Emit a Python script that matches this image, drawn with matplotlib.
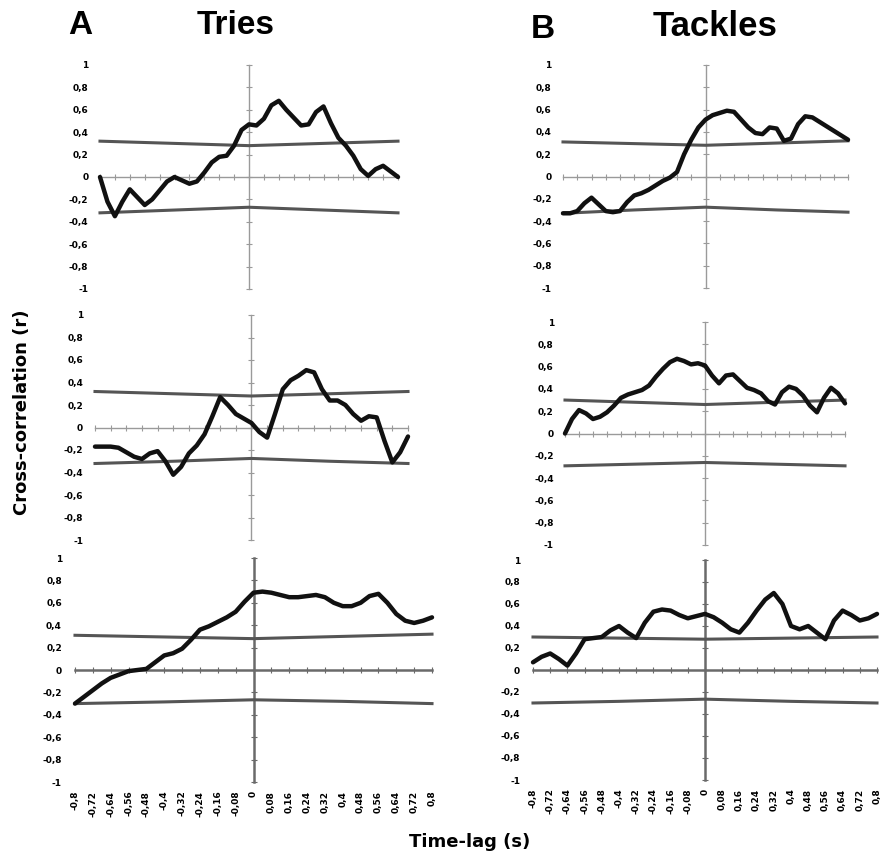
import matplotlib.pyplot as plt
import numpy as np

# time lags (s) of the cross-correlation curves
lags = np.linspace(-0.8, 0.8, 41)
band_lags = [-0.8, -0.4, 0.0, 0.4, 0.8]

# A - Tries
tries_1 = [0.0, -0.22, -0.35, -0.22, -0.11, -0.18, -0.25, -0.20, -0.12, -0.04,
           0.0, -0.03, -0.06, -0.04, 0.04, 0.13, 0.18, 0.19, 0.28, 0.42,
           0.47, 0.46, 0.52, 0.64, 0.68, 0.60, 0.53, 0.46, 0.47, 0.58,
           0.63, 0.48, 0.35, 0.28, 0.19, 0.07, 0.01, 0.07, 0.10, 0.05, 0.0]
tries_2 = [-0.17, -0.17, -0.17, -0.18, -0.22, -0.26, -0.28, -0.23, -0.21, -0.30,
           -0.42, -0.35, -0.23, -0.16, -0.06, 0.10, 0.27, 0.20, 0.12, 0.08,
           0.04, -0.04, -0.09, 0.12, 0.34, 0.42, 0.46, 0.51, 0.49, 0.34,
           0.24, 0.24, 0.20, 0.12, 0.06, 0.10, 0.09, -0.12, -0.31, -0.22, -0.08]
tries_3 = [-0.30, -0.24, -0.18, -0.12, -0.07, -0.04, -0.01, 0.0, 0.01, 0.07,
           0.13, 0.15, 0.19, 0.27, 0.36, 0.39, 0.43, 0.47, 0.52, 0.61,
           0.69, 0.70, 0.69, 0.67, 0.65, 0.65, 0.66, 0.67, 0.65, 0.60,
           0.57, 0.57, 0.60, 0.66, 0.68, 0.60, 0.50, 0.44, 0.42, 0.44, 0.47]

# B - Tackles
tackles_1 = [-0.33, -0.33, -0.31, -0.24, -0.19, -0.25, -0.31, -0.32, -0.31, -0.23,
             -0.17, -0.15, -0.12, -0.08, -0.04, -0.01, 0.04, 0.20, 0.33, 0.44,
             0.51, 0.55, 0.57, 0.59, 0.58, 0.51, 0.44, 0.39, 0.38, 0.44,
             0.43, 0.32, 0.34, 0.47, 0.54, 0.53, 0.49, 0.45, 0.41, 0.37, 0.33]
tackles_2 = [0.0, 0.13, 0.21, 0.18, 0.13, 0.15, 0.19, 0.25, 0.32, 0.35,
             0.37, 0.39, 0.43, 0.51, 0.58, 0.64, 0.67, 0.65, 0.62, 0.63,
             0.61, 0.52, 0.45, 0.52, 0.53, 0.47, 0.41, 0.39, 0.36, 0.29,
             0.26, 0.37, 0.42, 0.40, 0.34, 0.25, 0.19, 0.32, 0.41, 0.36, 0.27]
tackles_3 = [0.07, 0.12, 0.15, 0.10, 0.04, 0.15, 0.28, 0.29, 0.30, 0.36,
             0.40, 0.34, 0.29, 0.43, 0.53, 0.55, 0.54, 0.50, 0.47, 0.49,
             0.51, 0.48, 0.43, 0.37, 0.34, 0.43, 0.54, 0.64, 0.70, 0.60,
             0.40, 0.37, 0.40, 0.34, 0.28, 0.45, 0.54, 0.50, 0.45, 0.47, 0.51]

# significance bands (upper, lower) at band_lags
upper_bands = [[0.32, 0.30, 0.28, 0.30, 0.32],
               [0.31, 0.295, 0.28, 0.30, 0.32],
               [0.32, 0.30, 0.28, 0.30, 0.32],
               [0.30, 0.28, 0.26, 0.28, 0.30],
               [0.31, 0.295, 0.28, 0.30, 0.32],
               [0.30, 0.29, 0.28, 0.29, 0.30]]
lower_bands = [[-0.32, -0.295, -0.27, -0.295, -0.32],
               [-0.33, -0.30, -0.275, -0.30, -0.32],
               [-0.32, -0.30, -0.275, -0.30, -0.32],
               [-0.29, -0.275, -0.26, -0.275, -0.29],
               [-0.30, -0.285, -0.266, -0.28, -0.30],
               [-0.30, -0.285, -0.265, -0.285, -0.30]]

curves = [tries_1, tackles_1, tries_2, tackles_2, tries_3, tackles_3]

y_ticks = [1, 0.8, 0.6, 0.4, 0.2, 0, -0.2, -0.4, -0.6, -0.8, -1]
y_labels = ['1', '0,8', '0,6', '0,4', '0,2', '0', '-0,2', '-0,4', '-0,6', '-0,8', '-1']
x_ticks = np.round(np.linspace(-0.8, 0.8, 21), 2)
x_labels = [('%g' % v).replace('.', ',') for v in x_ticks]

W, H = 882, 858
fig = plt.figure(figsize=(W / 100, H / 100), dpi=100)

# pixel extents of the data box (x=-0.8, x=0.8, y=1, y=-1) for each panel
boxes = [(100, 398, 65, 289), (563, 848, 65, 288),
         (95, 408, 315, 540), (565, 845, 322, 545),
         (75, 432, 558, 782), (533, 877, 560, 780)]

for i, (L, R, T, B) in enumerate(boxes):
    sx = (R - L) / 1.6
    sy = (B - T) / 2.0
    left = L - 0.04 * sx
    top = T - 0.04 * sy
    ax = fig.add_axes([left / W, 1 - (top + 2.08 * sy) / H, 1.68 * sx / W, 2.08 * sy / H])
    ax.set_xlim(-0.84, 0.84)
    ax.set_ylim(-1.04, 1.04)
    for s in ax.spines.values():
        s.set_visible(False)
    bottom_row = i >= 4
    axc = '#6a6a6a' if bottom_row else '#9a9a9a'
    axw = 1.8 if bottom_row else 1.0
    # crossing axes through the origin
    ax.plot([0, 0], [-1, 1], color=axc, lw=axw, zorder=1)
    ax.plot([-0.8, 0.8], [0, 0], color=axc, lw=axw, zorder=1)
    ax.plot(x_ticks, np.zeros(len(x_ticks)), ls='none', marker='|', ms=4, mew=0.8, color=axc)
    ax.plot(np.zeros(len(y_ticks)), y_ticks, ls='none', marker='_', ms=4, mew=0.8, color=axc)
    # bands
    ax.plot(band_lags, upper_bands[i], color='#555555', lw=2.2, zorder=2)
    ax.plot(band_lags, lower_bands[i], color='#555555', lw=2.2, zorder=2)
    # curve
    ax.plot(lags, curves[i], color='#111111', lw=3.2, zorder=3,
            solid_joinstyle='round', solid_capstyle='round')
    ax.set_yticks(y_ticks)
    ax.set_yticklabels(y_labels, fontsize=6.5, fontweight='bold')
    ax.tick_params(axis='y', length=0, pad=3)
    if bottom_row:
        ax.set_xticks(x_ticks)
        ax.set_xticklabels(x_labels, rotation=90, fontsize=6.5, fontweight='bold')
        ax.tick_params(axis='x', length=0, pad=3)
    else:
        ax.set_xticks([])

title_font = dict(fontsize=24, fontweight='bold', family='Liberation Sans')
fig.text(80 / W, 1 - 26 / H, 'A', ha='center', va='center', **title_font)
fig.text(236 / W, 1 - 26 / H, 'Tries', ha='center', va='center', **title_font)
fig.text(543 / W, 1 - 30 / H, 'B', ha='center', va='center', **title_font)
fig.text(715 / W, 1 - 26 / H, 'Tackles', ha='center', va='center', fontsize=25,
         fontweight='bold', family='Liberation Sans')

fig.text(22 / W, 1 - 412 / H, 'Cross-correlation (r)', rotation=90, ha='center',
         va='center', fontsize=13, fontweight='bold')
fig.text(470 / W, 1 - 842 / H, 'Time-lag (s)', ha='center', va='center',
         fontsize=13, fontweight='bold')

fig.savefig('out.png', dpi=100)
